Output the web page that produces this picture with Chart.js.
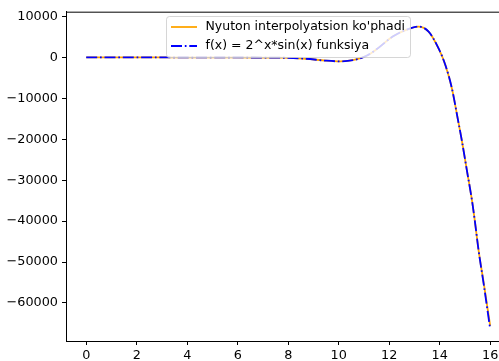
<!DOCTYPE html>
<html>
<head>
<meta charset="utf-8">
<script src="https://cdn.jsdelivr.net/npm/chart.js@4.4.0/dist/chart.umd.min.js"></script>
<style>
	html, body {margin: 0; padding: 0; background: #fff; overflow: hidden;}
	#wrap {width: 499px; height: 361px; overflow: hidden;}
</style>
</head>
<body>
<div id="wrap"><canvas id="chart" width="512" height="361"></canvas></div>
<script>
// values
const xValues = [0, 1, 2, 3, 4, 5, 6, 7, 7.7, 8.7, 9.5, 10.06, 10.65, 11.1, 11.47, 12.14, 12.72, 13.15, 13.56, 13.95, 14.22, 14.48, 14.72, 14.88, 15.08, 15.28, 15.39, 15.54, 15.74, 16];
const newtonValues = [0, 0, 0, 0, 0, 0, 0, -30, -60, -320, -800, -970, -560, 400, 1860, 5100, 6850, 7540, 6320, 2260, -1770, -7460, -15150, -20420, -27720, -35010, -39870, -47170, -55000, -65600];
const funcValues = [0, 0, 0, 0, 0, 0, 0, -30, -60, -320, -800, -970, -560, 400, 1860, 5100, 6850, 7540, 6320, 2260, -1770, -7460, -15150, -20420, -27720, -35010, -39870, -47170, -55300, -66400];
const xTicks = [0, 2, 4, 6, 8, 10, 12, 14, 16];
const yTicks = [10000, 0, -10000, -20000, -30000, -40000, -50000, -60000];
const legendLabels = ["Nyuton interpolyatsion ko'phadi", 'f(x) = 2^x*sin(x) funksiya'];

const FONT = '"DejaVu Sans", sans-serif';
const FONT_SIZE = 12.8;
const dashDot = [11, 2.8, 1.7, 2.8];

const toPoints = (ys) => xValues.map((x, i) => ({x: x, y: ys[i]}));

// matplotlib style frame + legend box drawn over the plot
const framePlugin = {
	id: 'frame',
	afterDraw(chart) {
		const ctx = chart.ctx;
		const a = chart.chartArea;
		ctx.save();
		ctx.strokeStyle = '#000';
		ctx.lineWidth = 1;
		ctx.beginPath();
		ctx.moveTo(a.left, a.top + 0.5);
		ctx.lineTo(a.right, a.top + 0.5);
		ctx.moveTo(a.right - 0.5, a.top);
		ctx.lineTo(a.right - 0.5, a.bottom);
		ctx.stroke();

		// legend
		const bx = 166.5, by = 16.5, bw = 244, bh = 41;
		ctx.beginPath();
		ctx.roundRect(bx, by, bw, bh, 3);
		ctx.fillStyle = 'rgba(255,255,255,0.8)';
		ctx.fill();
		ctx.strokeStyle = 'rgba(204,204,204,0.8)';
		ctx.stroke();

		ctx.lineWidth = 1.8;
		ctx.strokeStyle = '#ffa500';
		ctx.setLineDash([]);
		ctx.beginPath();
		ctx.moveTo(171, 27);
		ctx.lineTo(197, 27);
		ctx.stroke();

		ctx.strokeStyle = '#0000ff';
		ctx.setLineDash(dashDot);
		ctx.beginPath();
		ctx.moveTo(171, 46);
		ctx.lineTo(197, 46);
		ctx.stroke();
		ctx.setLineDash([]);

		ctx.fillStyle = '#000';
		ctx.font = '12.5px ' + FONT;
		ctx.textBaseline = 'middle';
		ctx.textAlign = 'left';
		ctx.fillText(legendLabels[0], 205.5, 27);
		ctx.fillText(legendLabels[1], 205.5, 46);
		ctx.restore();
	},
};

new Chart(document.getElementById('chart'), {
	type: 'line',
	data: {
		datasets: [
			{
				label: legendLabels[0],
				data: toPoints(newtonValues),
				borderColor: '#ffa500',
				borderWidth: 1.8,
				pointRadius: 0,
				cubicInterpolationMode: 'monotone',
				order: 2,
			},
			{
				label: legendLabels[1],
				data: toPoints(funcValues),
				borderColor: '#0000ff',
				borderWidth: 1.8,
				borderDash: dashDot,
				pointRadius: 0,
				cubicInterpolationMode: 'monotone',
				order: 1,
			},
		],
	},
	options: {
		responsive: false,
		devicePixelRatio: 1,
		animation: false,
		layout: {padding: {top: 10, right: 1.6, bottom: 0, left: 0}},
		plugins: {
			legend: {display: false},
			tooltip: {enabled: false},
		},
		scales: {
			x: {
				type: 'linear',
				min: -0.8,
				max: 16.8,
				afterBuildTicks: (scale) => {
					scale.ticks = xTicks.map((v) => ({value: v}));
				},
				afterFit: (scale) => {
					scale.height = 20;
				},
				ticks: {
					color: '#000',
					font: {family: FONT, size: FONT_SIZE},
					padding: 3,
					maxRotation: 0,
					callback: (v) => String(v),
				},
				grid: {display: true, drawOnChartArea: false, drawTicks: true, tickLength: 4, color: '#000'},
				border: {display: true, color: '#000', width: 1},
			},
			y: {
				min: -69300,
				max: 11180,
				afterBuildTicks: (scale) => {
					scale.ticks = yTicks.map((v) => ({value: v}));
				},
				afterFit: (scale) => {
					scale.width = 66;
				},
				ticks: {
					color: '#000',
					font: {family: FONT, size: FONT_SIZE},
					padding: 4,
					callback: (v) => (v < 0 ? '\u2212' + Math.abs(v) : String(v)),
				},
				grid: {display: true, drawOnChartArea: false, drawTicks: true, tickLength: 4, color: '#000'},
				border: {display: true, color: '#000', width: 1},
			},
		},
	},
	plugins: [framePlugin],
});
</script>
</body>
</html>
